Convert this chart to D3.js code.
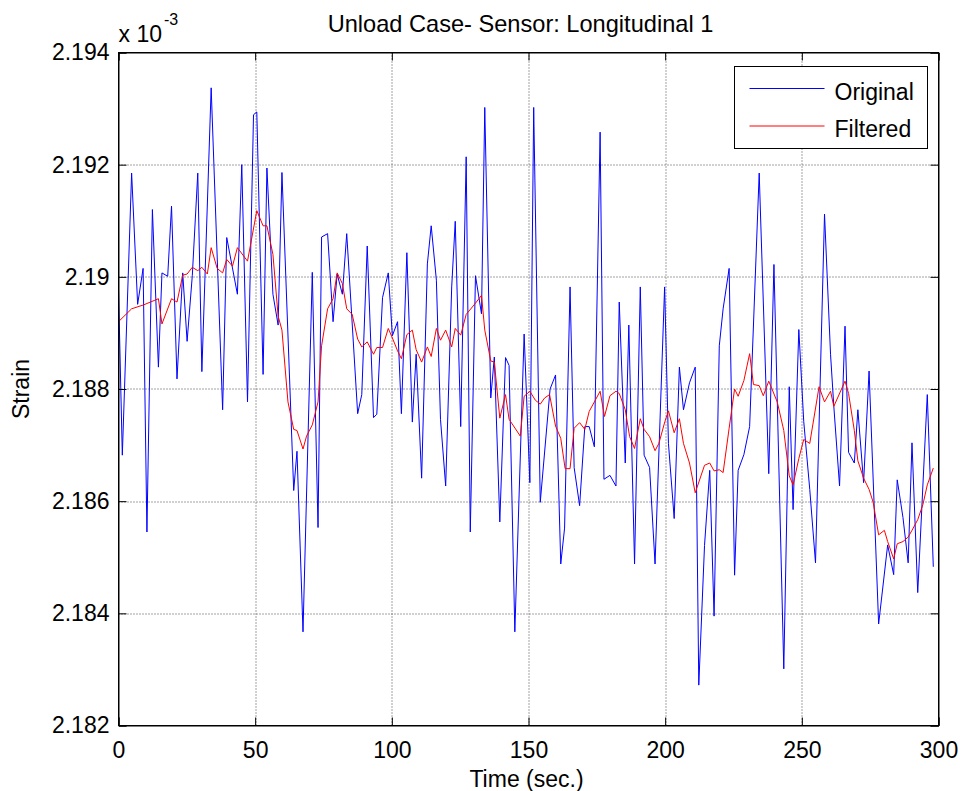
<!DOCTYPE html>
<html>
<head>
<meta charset="utf-8">
<script src="https://cdn.jsdelivr.net/npm/d3@7"></script>
<style>
    body { margin: 0; background: #fff; }
    text { font-family: "Liberation Sans", Arial, Helvetica, sans-serif; fill: #000; }
</style>
</head>
<body>
<div id="chart"></div>
<script>

// strain values are in units of 1e-3 (axis multiplier shown as "x 10^-3")
const originalTime = [0, 1.4, 4.8, 7.0, 9.0, 10.4, 12.4, 14.6, 15.9, 18.0, 19.4, 21.4, 23.5, 25.1, 27.0, 29.0, 30.5, 33.9, 38.1, 39.6,
    43.5, 45.1, 47.2, 49.4, 50.6, 52.9, 54.3, 56.5, 58.4, 59.8, 64.1, 65.3, 67.5, 70.9, 73.0, 74.3, 76.5, 78.5, 80.0, 81.9,
    83.5, 87.5, 89.0, 91.0, 93.3, 94.5, 96.6, 98.7, 100.2, 102.1, 103.5, 105.5, 107.5, 108.9, 110.9, 113.0, 114.4, 116.3, 117.8, 119.7,
    121.9, 123.2, 125.2, 127.2, 128.7, 130.6, 132.8, 134.0, 136.2, 137.5, 139.5, 141.6, 142.9, 145.0, 148.4, 150.5, 151.9, 154.3, 157.9, 159.9,
    161.8, 163.2, 165.2, 166.7, 168.7, 170.6, 172.2, 174.1, 176.2, 177.6, 179.8, 182.0, 183.2, 185.4, 186.7, 188.8, 190.9, 192.3, 194.3, 196.3,
    199.8, 201.2, 203.3, 205.2, 206.7, 208.9, 211.0, 212.3, 214.4, 216.3, 217.9, 219.8, 221.2, 223.4, 225.4, 226.7, 228.8, 230.9, 234.4, 237.9,
    239.8, 243.4, 245.4, 246.8, 248.9, 250.7, 252.9, 255.0, 258.3, 260.5, 261.7, 263.8, 265.8, 267.1, 269.2, 270.5, 272.6, 274.6, 278.1, 281.4,
    283.6, 284.9, 287.0, 288.9, 290.3, 292.4, 295.9, 298.1]

const originalStrain = [2.18978, 2.18682, 2.19185, 2.18951, 2.19015, 2.18545, 2.19120, 2.18839, 2.19007, 2.19001, 2.19126, 2.18818, 2.19007, 2.18885, 2.19002, 2.19185, 2.18831, 2.19337, 2.18763, 2.19070,
    2.18969, 2.19200, 2.18777, 2.19289, 2.19294, 2.18826, 2.19194, 2.18969, 2.18914, 2.19186, 2.18619, 2.18689, 2.18367, 2.19008, 2.18553, 2.19071, 2.19077, 2.18920, 2.19005, 2.18969,
    2.19077, 2.18756, 2.18790, 2.19055, 2.18749, 2.18755, 2.18963, 2.19007, 2.18895, 2.18920, 2.18756, 2.19043, 2.18741, 2.18862, 2.18641, 2.19023, 2.19091, 2.18994, 2.18746, 2.18627,
    2.18982, 2.19099, 2.18733, 2.19214, 2.18545, 2.19002, 2.18934, 2.19302, 2.18784, 2.18857, 2.18563, 2.18856, 2.18842, 2.18367, 2.18898, 2.18633, 2.19302, 2.18598, 2.18800, 2.18825,
    2.18488, 2.18552, 2.18982, 2.18660, 2.18592, 2.18733, 2.18733, 2.18697, 2.19258, 2.18639, 2.18646, 2.18627, 2.18955, 2.18668, 2.18914, 2.18488, 2.18982, 2.18682, 2.18660, 2.18488,
    2.18982, 2.18703, 2.18569, 2.18839, 2.18763, 2.18811, 2.18839, 2.18272, 2.18521, 2.18655, 2.18395, 2.18877, 2.18943, 2.19015, 2.18468, 2.18655, 2.18683, 2.18733, 2.19185, 2.18649,
    2.19022, 2.18301, 2.18804, 2.18585, 2.18906, 2.18742, 2.18621, 2.18490, 2.19112, 2.18862, 2.18769, 2.18627, 2.18912, 2.18687, 2.18668, 2.18763, 2.18633, 2.18832, 2.18381, 2.18522,
    2.18469, 2.18638, 2.18571, 2.18490, 2.18704, 2.18437, 2.18790, 2.18483]

const filteredTime = [0, 4.8, 9.2, 14.6, 15.9, 19.4, 21.4, 23.5, 25.1, 27.0, 29.0, 30.5, 32.5, 33.9, 36.1, 38.1, 39.6, 41.7, 43.5, 47.2,
    50.6, 52.9, 54.3, 56.5, 58.4, 59.8, 62.0, 64.1, 65.3, 67.5, 68.8, 70.9, 73.0, 74.3, 76.5, 78.5, 80.0, 81.9, 83.5, 85.5,
    87.5, 89.0, 91.0, 93.3, 94.5, 96.6, 98.7, 100.2, 102.1, 103.5, 105.5, 107.5, 108.9, 110.9, 113.0, 114.4, 116.3, 117.8, 119.7, 121.9,
    123.2, 125.2, 127.2, 130.6, 132.8, 134.0, 136.2, 137.5, 139.5, 141.6, 142.9, 147.0, 148.4, 150.5, 152.5, 154.3, 155.9, 157.7, 159.9, 161.8,
    163.4, 165.2, 166.7, 168.7, 170.6, 172.2, 174.1, 176.2, 177.8, 179.8, 182.0, 183.2, 185.4, 187.0, 188.8, 190.9, 192.3, 194.3, 196.3, 197.7,
    199.9, 201.2, 203.3, 205.2, 206.7, 208.9, 211.0, 214.4, 216.3, 217.9, 219.8, 221.2, 223.4, 225.4, 226.7, 228.8, 230.9, 232.3, 234.4, 235.9,
    237.9, 241.0, 243.4, 245.4, 246.8, 248.9, 250.7, 252.9, 256.3, 258.3, 260.5, 261.7, 265.8, 267.1, 269.2, 270.5, 272.6, 274.6, 276.1, 278.1,
    280.2, 281.4, 283.6, 284.9, 287.0, 288.9, 290.3, 292.4, 294.3, 295.9, 298.1]

const filteredStrain = [2.18920, 2.18943, 2.18950, 2.18961, 2.18916, 2.18961, 2.18955, 2.19003, 2.19005, 2.19017, 2.19011, 2.19017, 2.19005, 2.19052, 2.19015, 2.19007, 2.19031, 2.19019, 2.19052, 2.19028,
    2.19118, 2.19091, 2.19091, 2.19040, 2.18930, 2.18905, 2.18777, 2.18728, 2.18726, 2.18693, 2.18716, 2.18736, 2.18777, 2.18877, 2.18943, 2.18961, 2.19007, 2.18988, 2.18943, 2.18933,
    2.18889, 2.18875, 2.18884, 2.18862, 2.18874, 2.18874, 2.18908, 2.18891, 2.18868, 2.18854, 2.18897, 2.18905, 2.18870, 2.18848, 2.18875, 2.18858, 2.18908, 2.18887, 2.18905, 2.18875,
    2.18908, 2.18896, 2.18933, 2.18953, 2.18967, 2.18905, 2.18850, 2.18848, 2.18748, 2.18790, 2.18746, 2.18716, 2.18787, 2.18796, 2.18780, 2.18773, 2.18784, 2.18790, 2.18734, 2.18712,
    2.18658, 2.18658, 2.18730, 2.18740, 2.18728, 2.18760, 2.18777, 2.18796, 2.18751, 2.18788, 2.18796, 2.18792, 2.18763, 2.18715, 2.18694, 2.18747, 2.18728, 2.18715, 2.18690, 2.18703,
    2.18742, 2.18761, 2.18722, 2.18747, 2.18703, 2.18668, 2.18615, 2.18664, 2.18668, 2.18654, 2.18656, 2.18651, 2.18730, 2.18800, 2.18787, 2.18815, 2.18863, 2.18808, 2.18806, 2.18788,
    2.18814, 2.18777, 2.18726, 2.18645, 2.18629, 2.18676, 2.18710, 2.18703, 2.18804, 2.18777, 2.18796, 2.18769, 2.18814, 2.18792, 2.18726, 2.18672, 2.18641, 2.18621, 2.18598, 2.18540,
    2.18548, 2.18528, 2.18497, 2.18524, 2.18528, 2.18536, 2.18548, 2.18567, 2.18594, 2.18629, 2.18659]

const xTicks = [0, 50, 100, 150, 200, 250, 300]
const yTicks = [2.182, 2.184, 2.186, 2.188, 2.19, 2.192, 2.194]
const yTickLabels = ["2.182", "2.184", "2.186", "2.188", "2.19", "2.192", "2.194"]

const seriesNames = ["Original", "Filtered"]
const seriesColors = ["#0000ff", "#ff0000"]

// Create SVG
const margin = {top: 52.5, right: 24.5, bottom: 65.5, left: 118.5}
const width = 963 - margin.left - margin.right
const height = 791 - margin.top - margin.bottom

const svg = d3.select("#chart").append("svg")
        .attr("width", 963)
        .attr("height", 791)
    .append("g")
        .attr("transform", "translate(" + margin.left + "," + margin.top + ")")

const xScale = d3.scaleLinear()
    .domain([0, 300])
    .range([0, width])

const yScale = d3.scaleLinear()
    .domain([2.182, 2.194])
    .range([height, 0])

// dotted grid
const grid = svg.append("g")
        .attr("class", "grid")

grid.selectAll("line.gx")
    .data(xTicks.slice(1, -1))
    .join("line")
        .attr("class", "gx")
        .attr("x1", d => Math.round(xScale(d)) + 0.5)
        .attr("x2", d => Math.round(xScale(d)) + 0.5)
        .attr("y1", 0)
        .attr("y2", height)

grid.selectAll("line.gy")
    .data(yTicks.slice(1, -1))
    .join("line")
        .attr("class", "gy")
        .attr("x1", 0)
        .attr("x2", width)
        .attr("y1", d => Math.round(yScale(d)) + 0.5)
        .attr("y2", d => Math.round(yScale(d)) + 0.5)

grid.selectAll("line")
    .attr("stroke", "#444")
    .attr("stroke-dasharray", "1,2")

// lines
const line = d3.line()
    .x(d => xScale(d[0]))
    .y(d => yScale(d[1]))

const series = [
    d3.zip(originalTime, originalStrain),
    d3.zip(filteredTime, filteredStrain)
]

svg.selectAll("path.series")
    .data(series)
    .join("path")
        .attr("class", "series")
        .attr("fill", "none")
        .attr("stroke", (d, i) => seriesColors[i])
        .attr("stroke-width", 1)
        .attr("d", line)

// axes, ticks pointing inward (MATLAB box style)
const fontSize = "23px"

const xAx = d3.axisBottom(xScale).tickValues(xTicks).tickSize(-8).tickPadding(16)
const yAx = d3.axisLeft(yScale).tickValues(yTicks).tickSize(-8).tickPadding(9)
    .tickFormat((d, i) => yTickLabels[i])

svg.append("g")
        .attr("transform", `translate(0, ${height})`)
        .call(xAx)
svg.append("g")
        .call(yAx)
svg.append("g")
        .call(d3.axisTop(xScale).tickValues(xTicks).tickSize(-8).tickFormat(""))
svg.append("g")
        .attr("transform", `translate(${width}, 0)`)
        .call(d3.axisRight(yScale).tickValues(yTicks).tickSize(-8).tickFormat(""))

svg.selectAll(".domain").attr("stroke", "#000")
svg.selectAll(".tick line").attr("stroke", "#000")
svg.selectAll(".tick text")
    .attr("font-size", fontSize)
    .attr("font-family", "'Liberation Sans', Arial, sans-serif")
    .attr("fill", "#000")

// box outline
svg.append("rect")
    .attr("width", width)
    .attr("height", height)
    .attr("fill", "none")
    .attr("stroke", "#000")

// exponent label
const expLabel = svg.append("text")
    .attr("x", 0)
    .attr("y", -11)
    .attr("font-size", fontSize)
expLabel.append("tspan").text("x 10")
expLabel.append("tspan")
    .attr("font-size", "16px")
    .attr("dy", -17)
    .attr("dx", 2)
    .text("-3")

// title and axis labels
svg.append("text")
    .attr("x", width / 2 - 8)
    .attr("y", -21)
    .attr("text-anchor", "middle")
    .attr("font-size", "23.6px")
    .text("Unload Case- Sensor: Longitudinal 1")

svg.append("text")
    .attr("x", width / 2 - 2)
    .attr("y", height + 61)
    .attr("text-anchor", "middle")
    .attr("font-size", fontSize)
    .text("Time (sec.)")

svg.append("text")
    .attr("transform", `translate(${-90}, ${height / 2}) rotate(-90)`)
    .attr("text-anchor", "middle")
    .attr("font-size", fontSize)
    .text("Strain")

// legend
const legend = svg.append("g")
        .attr("transform", "translate(616, 14)")

legend.append("rect")
    .attr("width", 193)
    .attr("height", 82)
    .attr("fill", "#fff")
    .attr("stroke", "#000")

const items = legend.selectAll("g.item")
    .data(seriesNames)
    .join("g")
        .attr("class", "item")
        .attr("transform", (d, i) => `translate(0, ${22 + i * 37.5})`)

items.append("line")
    .attr("x1", 15)
    .attr("x2", 90)
    .attr("stroke", (d, i) => seriesColors[i])

items.append("text")
    .attr("x", 100)
    .attr("y", 11)
    .attr("font-size", fontSize)
    .text(d => d)

</script>
</body>
</html>
